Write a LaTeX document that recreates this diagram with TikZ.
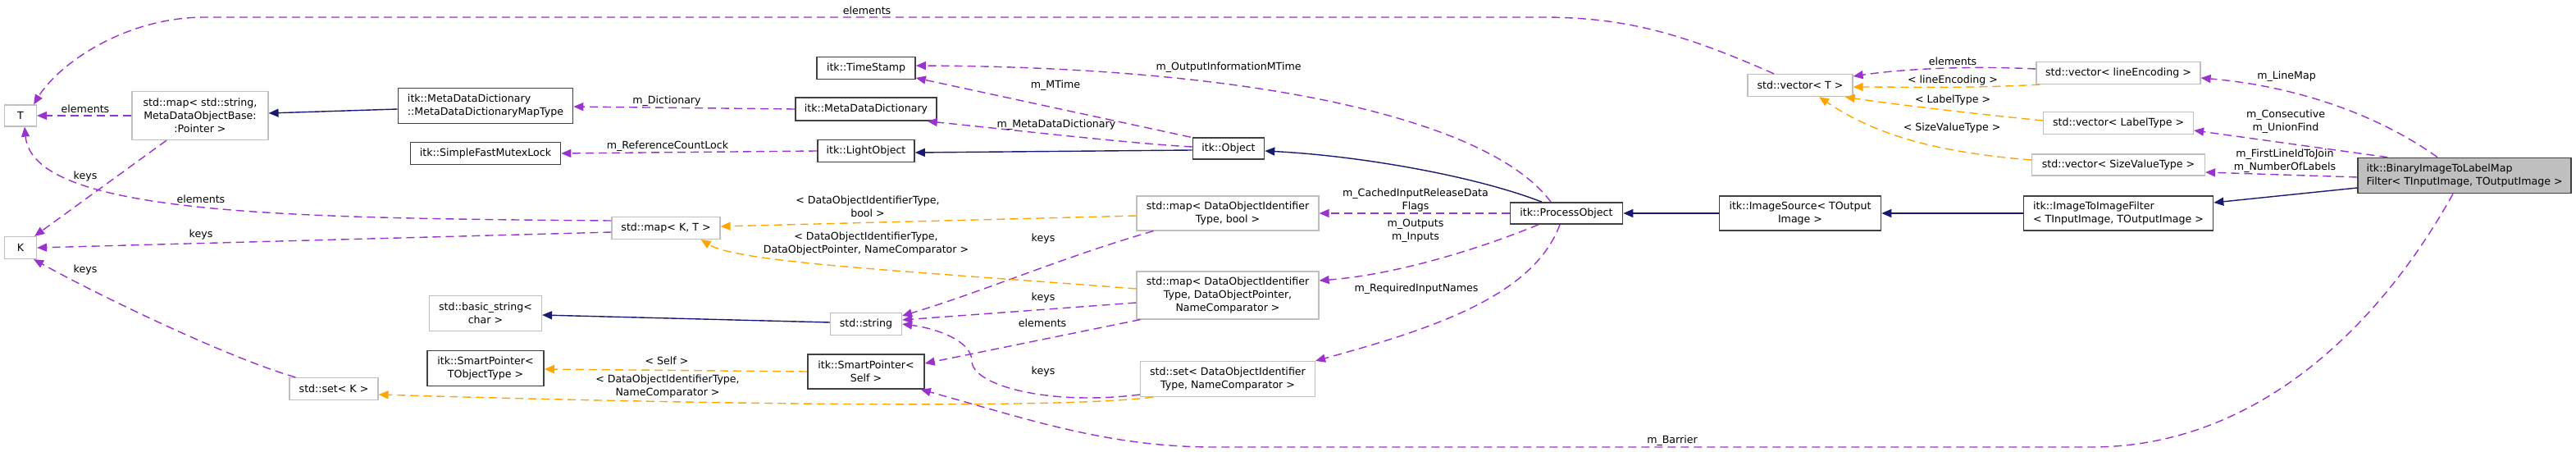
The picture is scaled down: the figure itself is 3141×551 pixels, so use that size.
\documentclass[tikz,border=0pt]{standalone}
\usepackage{fontspec}
\setmainfont{DejaVu Sans}
\usetikzlibrary{arrows.meta,calc}
\definecolor{Navy}{HTML}{191970}
\definecolor{Orchid}{HTML}{9A32CD}
\definecolor{Tmpl}{HTML}{FFA500}
\definecolor{Frame}{HTML}{404040}
\definecolor{Pale}{HTML}{BFBFBF}
\tikzset{
  box/.style={draw,line width=0.6pt,inner sep=1pt,align=center,font=\fontsize{6.3}{8}\selectfont},
  docbox/.style={box,draw=Frame,line width=0.8pt},
  extbox/.style={box,draw=Pale},
  mainbox/.style={box,draw=Frame,line width=0.8pt,fill=Pale,align=left},
  inhline/.style={Navy,line width=0.7pt,-{Triangle[length=6pt,width=5pt]}},
  useline/.style={Orchid,line width=0.7pt,dash pattern=on 5pt off 3pt,-{Triangle[length=6pt,width=5pt]}},
  tplline/.style={Tmpl,line width=0.7pt,dash pattern=on 5pt off 3pt,-{Triangle[length=6pt,width=5pt]}},
  lbl/.style={inner sep=0pt,align=center,font=\fontsize{6.3}{8}\selectfont}
}
\newcommand{\ClassBox}[7]{%
  \node[#1,minimum width=#5*0.5pt,minimum height=#6*0.5pt] (#2) at (#3,#4) {#7};%
}
\newcommand{\EdgeLabel}[4]{%
  \node[lbl] (#1) at (#2,#3) {#4};%
}

\begin{document}
\begin{tikzpicture}[x=0.5pt,y=-0.5pt]
\useasboundingbox (0,0) rectangle (3141,551);
\ClassBox{extbox}{T}{25}{141}{39}{26}{T}
\ClassBox{extbox}{K}{25}{302}{39}{27}{K}
\ClassBox{extbox}{smap}{244}{141}{166}{59}{std::map< std::string,\\ MetaDataObjectBase:\\ :Pointer >}
\ClassBox{docbox,align=left}{mdmap}{592}{129}{213}{43}{itk::MetaDataDictionary\\ ::MetaDataDictionaryMapType}
\ClassBox{docbox}{mutex}{592}{187}{183}{27}{itk::SimpleFastMutexLock}
\ClassBox{extbox}{bstr}{592}{382}{137}{43}{std::basic\_string<\\ char >}
\ClassBox{docbox}{sptro}{592}{449}{142}{43}{itk::SmartPointer<\\ TObjectType >}
\ClassBox{extbox}{setk}{407}{474}{108}{27}{std::set< K >}
\ClassBox{docbox}{stamp}{1056}{83}{120}{27}{itk::TimeStamp}
\ClassBox{docbox}{mdd}{1056}{133}{172}{28}{itk::MetaDataDictionary}
\ClassBox{docbox}{lobj}{1056}{184}{118}{27}{itk::LightObject}
\ClassBox{extbox}{mapkt}{812}{278}{132}{27}{std::map< K, T >}
\ClassBox{extbox}{str}{1056}{395}{87}{27}{std::string}
\ClassBox{docbox}{sptrs}{1056}{453}{142}{42}{itk::SmartPointer<\\ Self >}
\ClassBox{docbox}{obj}{1498}{181}{87}{26}{itk::Object}
\ClassBox{extbox}{mapbool}{1497}{260}{222}{42}{std::map< DataObjectIdentifier\\ Type, bool >}
\ClassBox{docbox}{po}{1910}{260}{137}{26}{itk::ProcessObject}
\ClassBox{extbox}{mapdop}{1497}{360}{222}{58}{std::map< DataObjectIdentifier\\ Type, DataObjectPointer,\\ NameComparator >}
\ClassBox{extbox}{setdo}{1497}{462}{213}{43}{std::set< DataObjectIdentifier\\ Type, NameComparator >}
\ClassBox{extbox}{vect}{2195}{104}{128}{27}{std::vector< T >}
\ClassBox{extbox}{vline}{2583}{89}{200}{27}{std::vector< lineEncoding >}
\ClassBox{extbox}{vlab}{2583}{150}{183}{27}{std::vector< LabelType >}
\ClassBox{extbox}{vsize}{2583}{201}{211}{26}{std::vector< SizeValueType >}
\ClassBox{docbox}{isrc}{2195}{260}{197}{42}{itk::ImageSource< TOutput\\ Image >}
\ClassBox{docbox,align=left}{i2i}{2583}{260}{231}{42}{itk::ImageToImageFilter\\ < TInputImage, TOutputImage >}
\ClassBox{mainbox}{bin}{3005}{214}{260}{43}{itk::BinaryImageToLabelMap\\ Filter< TInputImage, TOutputImage >}
\draw[inhline] ($(mdmap.west)+(0,4)$) -- ($(smap.east)+(0,-3)$);
\draw[inhline] ($(str.west)+(0,-2)$) -- ($(bstr.east)+(0,2)$);
\draw[inhline] ($(obj.west)+(0,2)$) -- ($(lobj.east)+(0,2)$);
\draw[inhline] ($(po.north)+(-30,0)$) .. controls (1800,215) and (1660,190) .. ($(obj.east)+(0,3)$);
\draw[inhline] (isrc.west) -- (po.east);
\draw[inhline] (i2i.west) -- (isrc.east);
\draw[inhline] ($(bin.west)+(0,15)$) -- ($(i2i.east)+(0,-13)$);
\draw[useline] (smap.west) -- (T.east);
\draw[useline] ($(vect.north)+(-32,0)$) .. controls (2050,40) and (1980,21) .. (1880,21) -- (250,21) .. controls (150,21) and (70,80) .. ($(T.north east)+(-4,0)$);
\draw[useline] ($(mapkt.west)+(0,-9)$) .. controls (350,266) and (40,262) .. ($(T.south)+(5,0)$);
\draw[useline] ($(mapkt.west)+(0,5)$) -- (K.east);
\draw[useline] ($(smap.south)+(-41,0)$) -- ($(K.north east)+(-3,0)$);
\draw[useline] ($(setk.north west)+(8,0)$) .. controls (280,437) and (120,360) .. ($(K.south east)+(-4,0)$);
\draw[useline] (mdd.west) -- ($(mdmap.east)+(0,1)$);
\draw[useline] (lobj.west) -- (mutex.east);
\draw[useline] ($(obj.north west)+(-2,0)$) -- ($(stamp.east)+(0,12)$);
\draw[useline] ($(obj.west)+(0,-2)$) .. controls (1380,175) and (1250,160) .. ($(mdd.south east)+(-12,0)$);
\draw[useline] ($(po.north)+(-19,0)$) .. controls (1820,150) and (1550,82) .. ($(stamp.east)+(0,-3)$);
\draw[useline] (po.west) -- (mapbool.east);
\draw[useline] ($(po.south)+(-34,0)$) .. controls (1800,305) and (1700,335) .. ($(mapdop.east)+(0,-18)$);
\draw[useline] ($(po.south)+(-8,0)$) .. controls (1870,360) and (1750,400) .. (setdo.north east);
\draw[useline] ($(mapbool.south west)+(21,0)$) .. controls (1300,312) and (1200,355) .. ($(str.east)+(0,-10)$);
\draw[useline] ($(mapdop.west)+(0,9)$) -- ($(str.east)+(0,-5)$);
\draw[useline] ($(mapdop.south west)+(5,0)$) -- ($(sptrs.east)+(0,-10)$);
\draw[useline] ($(setdo.west)+(0,19)$) .. controls (1280,495) and (1185,470) .. (1185,440) .. controls (1185,415) and (1140,400) .. (str.east);
\draw[useline] ($(bin.south)+(-14,0)$) .. controls (2900,400) and (2750,545) .. (2550,545) -- (1480,545) .. controls (1350,545) and (1250,510) .. ($(sptrs.south east)+(-5,0)$);
\draw[useline] ($(bin.north)+(-33,0)$) .. controls (2900,140) and (2800,105) .. ($(vline.east)+(0,6)$);
\draw[useline] ($(bin.north west)+(37,0)$) -- ($(vlab.east)+(0,9)$);
\draw[useline] ($(bin.west)+(0,2)$) -- ($(vsize.east)+(0,9)$);
\draw[useline] ($(vline.west)+(0,-5)$) .. controls (2400,80) and (2320,84) .. ($(vect.east)+(0,-11)$);
\draw[tplline] ($(vline.south west)+(5,0)$) .. controls (2400,108) and (2320,106) .. ($(vect.east)+(0,2)$);
\draw[tplline] ($(vlab.west)+(0,-3)$) .. controls (2400,138) and (2300,126) .. ($(vect.south east)+(-10,0)$);
\draw[tplline] ($(vsize.west)+(0,-6)$) .. controls (2350,185) and (2280,160) .. ($(vect.south)+(23,0)$);
\draw[tplline] ($(mapbool.west)+(0,3)$) -- ($(mapkt.east)+(0,-2)$);
\draw[tplline] ($(mapdop.west)+(0,-8)$) .. controls (1100,330) and (900,320) .. ($(mapkt.south east)+(-24,0)$);
\draw[tplline] ($(setdo.south west)+(16,0)$) .. controls (1300,498) and (900,494) .. ($(setk.east)+(0,7)$);
\draw[tplline] (sptrs.west) -- ($(sptro.east)+(0,1)$);
\EdgeLabel{lA}{1057}{13}{elements}
\EdgeLabel{lB}{104}{133}{elements}
\EdgeLabel{lC}{245}{243}{elements}
\EdgeLabel{lD}{104}{215}{keys}
\EdgeLabel{lE}{245}{286}{keys}
\EdgeLabel{lF}{104}{329}{keys}
\EdgeLabel{lG}{813}{123}{m\_Dictionary}
\EdgeLabel{lH}{814}{178}{m\_ReferenceCountLock}
\EdgeLabel{lI}{1287}{104}{m\_MTime}
\EdgeLabel{lJ}{1288}{152}{m\_MetaDataDictionary}
\EdgeLabel{lK}{1498}{82}{m\_OutputInformationMTime}
\EdgeLabel{lL}{1726}{244}{m\_CachedInputReleaseData\\Flags}
\EdgeLabel{lM}{1726}{281}{m\_Outputs\\m\_Inputs}
\EdgeLabel{lN}{1727}{352}{m\_RequiredInputNames}
\EdgeLabel{lO}{1058}{252}{< DataObjectIdentifierType,\\bool >}
\EdgeLabel{lP}{1056}{297}{< DataObjectIdentifierType,\\DataObjectPointer, NameComparator >}
\EdgeLabel{lQ}{814}{471}{< DataObjectIdentifierType,\\NameComparator >}
\EdgeLabel{lR}{813}{440}{< Self >}
\EdgeLabel{lS}{1272}{291}{keys}
\EdgeLabel{lT}{1272}{363}{keys}
\EdgeLabel{lU}{1271}{394}{elements}
\EdgeLabel{lV}{1272}{453}{keys}
\EdgeLabel{lW}{2039}{537}{m\_Barrier}
\EdgeLabel{lX}{2788}{93}{m\_LineMap}
\EdgeLabel{lY}{2787}{148}{m\_Consecutive\\m\_UnionFind}
\EdgeLabel{lZ}{2786}{196}{m\_FirstLineIdToJoin\\m\_NumberOfLabels}
\EdgeLabel{la}{2381}{75}{elements}
\EdgeLabel{lb}{2381}{98}{< lineEncoding >}
\EdgeLabel{lc}{2381}{122}{< LabelType >}
\EdgeLabel{ld}{2380}{156}{< SizeValueType >}
\end{tikzpicture}
\end{document}
